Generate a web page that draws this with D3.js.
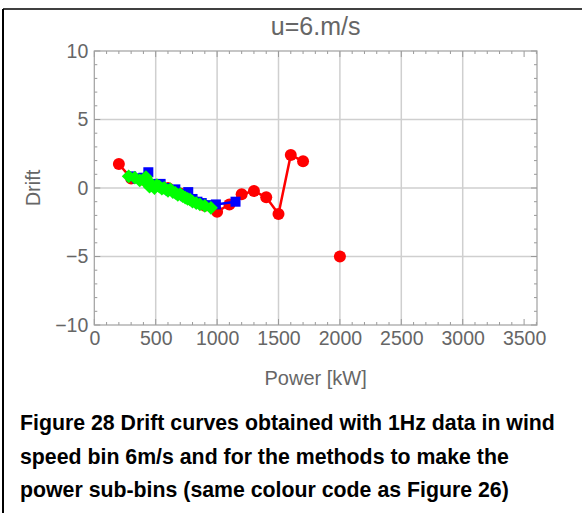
<!DOCTYPE html>
<html><head><meta charset="utf-8">
<script src="https://cdn.jsdelivr.net/npm/d3@7"></script>
<style>
html,body{margin:0;padding:0;background:#fff;}
svg{display:block;}
</style></head>
<body>
<script>
const title = "u=6.m/s";
const xLabel = "Power [kW]";
const yLabel = "Drift";
const xTicks = [0,500,1000,1500,2000,2500,3000,3500];
const xGrid = [500,1000,1500,2000,2500,3000];
const yTicks = [-10,-5,0,5,10];
const yGrid = [-5,0,5];
const captionLines = [
  "Figure 28 Drift curves obtained with 1Hz data in wind",
  "speed bin 6m/s and for the methods to make the",
  "power sub-bins (same colour code as Figure 26)"
];
// red: circles
const redX = [200,300,400,500,600,700,800,900,1000,1100,1200,1300,1400,1500,1600,1700,1800,1900,2000];
const redY = [1.75,0.7,0.6,0.15,0.0,-0.4,-0.9,-1.3,-1.73,-1.2,-0.45,-0.22,-0.68,-1.9,2.41,1.95,null,null,-5.0];
// blue: squares
const blueX = [300,350,400,440,460,500,540,580,620,660,700,740,765,800,840,875,920,990,1150];
const blueY = [0.85,0.7,0.75,1.15,0.3,0.15,0.3,0.0,-0.2,-0.1,-0.45,-0.6,-0.3,-0.8,-1.0,-1.1,-1.25,-1.2,-1.0];
// green: diamonds
const greenX = [280,330,370,400,420,440,450,470,490,510,530,550,570,600,620,640,660,680,700,720,740,760,780,800,830,860,900,950];
const greenY = [0.85,0.75,0.55,0.6,0.8,0.5,0.1,0.2,0.0,0.2,0.1,-0.05,0.0,-0.2,-0.1,-0.3,-0.35,-0.5,-0.45,-0.6,-0.7,-0.8,-0.85,-1.0,-1.1,-1.2,-1.3,-1.45];

const W = 582, H = 513;
const svg = d3.select("body").append("svg").attr("width", W).attr("height", H);
svg.append("rect").attr("width", W).attr("height", H).attr("fill", "#fff");

// outer border lines
svg.append("line").attr("x1",3).attr("x2",3).attr("y1",9).attr("y2",H).attr("stroke","#000").attr("stroke-width",2);
svg.append("line").attr("x1",3).attr("x2",W).attr("y1",9).attr("y2",9).attr("stroke","#000").attr("stroke-width",1.5);

const L = 94.3, R = 537, T = 51, B = 325;
const x = d3.scaleLinear().domain([0, 3605]).range([L, R]);
const y = d3.scaleLinear().domain([-10, 10]).range([B, T]);

const font = "Liberation Sans, Arial, sans-serif";
const g = svg.append("g");

// grid
g.selectAll(".gx").data(xGrid).enter().append("line")
  .attr("x1", d=>x(d)).attr("x2", d=>x(d)).attr("y1", T).attr("y2", B)
  .attr("stroke", "#cfcfcf").attr("stroke-width", 1.5);
g.selectAll(".gy").data(yGrid).enter().append("line")
  .attr("y1", d=>y(d)).attr("y2", d=>y(d)).attr("x1", L).attr("x2", R)
  .attr("stroke", "#cfcfcf").attr("stroke-width", 1.5);

// minor + major ticks on all sides (inward)
const xMinor = d3.range(0, 3601, 100);
const yMinor = d3.range(-10, 10.01, 1);
const tickCol = "#999";
xMinor.forEach(v => {
  const major = v % 500 === 0;
  const len = major ? 6 : 3;
  g.append("line").attr("x1", x(v)).attr("x2", x(v)).attr("y1", B).attr("y2", B - len).attr("stroke", tickCol).attr("stroke-width", 1);
  g.append("line").attr("x1", x(v)).attr("x2", x(v)).attr("y1", T).attr("y2", T + len).attr("stroke", tickCol).attr("stroke-width", 1);
});
yMinor.forEach(v => {
  const major = Math.round(v) % 5 === 0;
  const len = major ? 6 : 3;
  g.append("line").attr("y1", y(v)).attr("y2", y(v)).attr("x1", L).attr("x2", L + len).attr("stroke", tickCol).attr("stroke-width", 1);
  g.append("line").attr("y1", y(v)).attr("y2", y(v)).attr("x1", R).attr("x2", R - len).attr("stroke", tickCol).attr("stroke-width", 1);
});

// frame
g.append("rect").attr("x", L).attr("y", T).attr("width", R - L).attr("height", B - T)
  .attr("fill", "none").attr("stroke", "#a0a0a0").attr("stroke-width", 1.2);

// tick labels
const xAxis = d3.axisBottom(x).tickValues(xTicks).tickSize(0).tickPadding(6).tickFormat(d3.format("d"));
const xa = svg.append("g").attr("transform", `translate(0,${B})`).call(xAxis);
xa.select(".domain").remove();
xa.selectAll("text").attr("font-family", font).attr("font-size", 19.5).attr("fill", "#666").attr("dy", "0.72em");

const yAxis = d3.axisLeft(y).tickValues(yTicks).tickSize(0).tickPadding(6)
  .tickFormat(d => d < 0 ? "\u2212" + Math.abs(d) : d);
const ya = svg.append("g").attr("transform", `translate(${L},0)`).call(yAxis);
ya.select(".domain").remove();
ya.selectAll("text").attr("font-family", font).attr("font-size", 19.5).attr("fill", "#666");

// titles
svg.append("text").attr("x", (L + R) / 2).attr("y", 35).attr("text-anchor", "middle")
  .attr("font-family", font).attr("font-size", 25).attr("fill", "#666").text(title);
svg.append("text").attr("x", (L + R) / 2).attr("y", 385).attr("text-anchor", "middle")
  .attr("font-family", font).attr("font-size", 20).attr("fill", "#666").text(xLabel);
svg.append("text").attr("transform", `translate(40,${y(0)}) rotate(-90)`).attr("text-anchor", "middle")
  .attr("font-family", font).attr("font-size", 20).attr("fill", "#666").text(yLabel);

// series
const plot = svg.append("g");
function series(xs, ys, color) {
  const pts = xs.map((v, i) => ({x: v, y: ys[i]}));
  const line = d3.line().defined(d => d.y !== null).x(d => x(d.x)).y(d => y(d.y));
  plot.append("path").datum(pts).attr("d", line).attr("fill", "none").attr("stroke", color).attr("stroke-width", 2.5);
  return pts.filter(d => d.y !== null);
}
const redPts = series(redX, redY, "#ff0000");
plot.selectAll(".rc").data(redPts).enter().append("circle")
  .attr("cx", d => x(d.x)).attr("cy", d => y(d.y)).attr("r", 6).attr("fill", "#ff0000");
const bluePts = series(blueX, blueY, "#0000ff");
plot.selectAll(".bs").data(bluePts).enter().append("rect")
  .attr("x", d => x(d.x) - 5).attr("y", d => y(d.y) - 5).attr("width", 10).attr("height", 10).attr("fill", "#0000ff");
const greenPts = series(greenX, greenY, "#00ff00");
plot.selectAll(".gd").data(greenPts).enter().append("path")
  .attr("d", d3.symbol().type(d3.symbolSquare).size(95))
  .attr("transform", d => `translate(${x(d.x)},${y(d.y)}) rotate(45)`).attr("fill", "#00ff00");

// caption
captionLines.forEach((t, i) => {
  svg.append("text").attr("x", 20).attr("y", 430 + i * 33.5)
    .attr("font-family", font).attr("font-weight", "bold").attr("font-size", 21.3).attr("fill", "#000").text(t);
});
</script>
</body></html>
